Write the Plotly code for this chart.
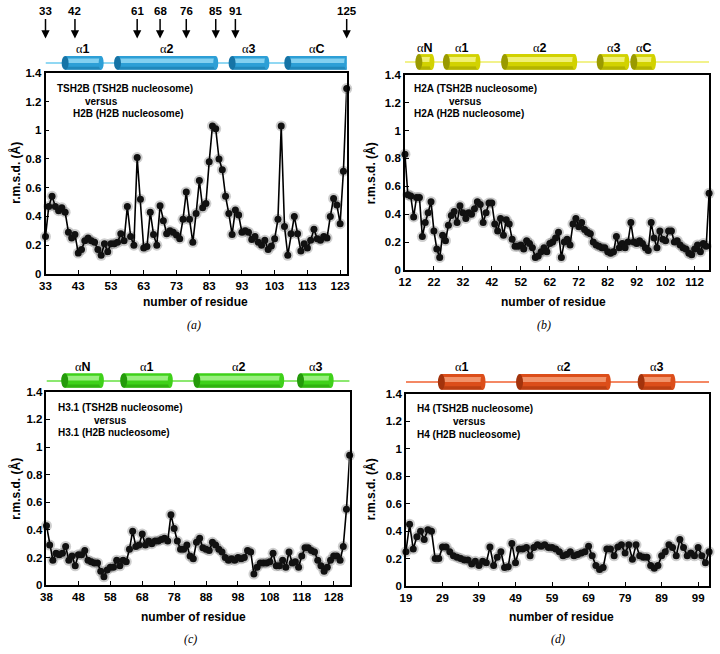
import plotly.graph_objects as go

# ---------------- data ----------------
res_a = list(range(33, 126))
rmsd_a = [0.26, 0.47, 0.54, 0.47, 0.44, 0.46, 0.43, 0.29, 0.25, 0.275,
          0.145, 0.17, 0.23, 0.25, 0.23, 0.22, 0.17, 0.13, 0.21, 0.155,
          0.21, 0.21, 0.22, 0.28, 0.23, 0.47, 0.26, 0.20, 0.81, 0.52,
          0.18, 0.19, 0.43, 0.275, 0.20, 0.475, 0.37, 0.28, 0.30, 0.29,
          0.27, 0.245, 0.38, 0.57, 0.38, 0.22, 0.42, 0.65, 0.46, 0.49,
          0.78, 1.03, 1.01, 0.80, 0.725, 0.54, 0.42, 0.275, 0.445, 0.41,
          0.29, 0.30, 0.29, 0.24, 0.26, 0.22, 0.20, 0.235, 0.17, 0.195,
          0.245, 0.38, 1.03, 0.33, 0.13, 0.28, 0.40, 0.28, 0.16, 0.21,
          0.18, 0.235, 0.31, 0.245, 0.235, 0.26, 0.25, 0.40, 0.525, 0.48,
          0.35, 0.715, 1.29]

res_b = list(range(12, 118))
rmsd_b = [0.83, 0.54, 0.53, 0.38, 0.52, 0.52, 0.24, 0.34, 0.41, 0.49,
          0.28, 0.15, 0.09, 0.25, 0.21, 0.32, 0.39, 0.42, 0.34, 0.46,
          0.41, 0.37, 0.41, 0.40, 0.44, 0.49, 0.47, 0.34, 0.41, 0.48,
          0.48, 0.33, 0.28, 0.37, 0.25, 0.36, 0.33, 0.22, 0.17, 0.17,
          0.18, 0.15, 0.21, 0.19, 0.16, 0.09, 0.10, 0.13, 0.16, 0.13,
          0.19, 0.20, 0.23, 0.27, 0.09, 0.20, 0.22, 0.18, 0.33, 0.37,
          0.31, 0.34, 0.29, 0.27, 0.26, 0.20, 0.18, 0.17, 0.16, 0.16,
          0.13, 0.12, 0.13, 0.24, 0.16, 0.19, 0.16, 0.20, 0.34, 0.20,
          0.19, 0.21, 0.19, 0.16, 0.14, 0.34, 0.23, 0.16, 0.28, 0.22,
          0.21, 0.28, 0.28, 0.20, 0.21, 0.18, 0.16, 0.15, 0.12, 0.11,
          0.15, 0.18, 0.13, 0.19, 0.17, 0.55]

res_c = list(range(38, 134))
rmsd_c = [0.43, 0.29, 0.18, 0.23, 0.22, 0.23, 0.28, 0.18, 0.21, 0.14,
          0.22, 0.22, 0.25, 0.18, 0.17, 0.16, 0.16, 0.10, 0.06, 0.11,
          0.13, 0.13, 0.18, 0.14, 0.18, 0.17, 0.26, 0.39, 0.28, 0.29,
          0.37, 0.29, 0.32, 0.30, 0.32, 0.32, 0.33, 0.34, 0.32, 0.51,
          0.41, 0.32, 0.26, 0.26, 0.29, 0.21, 0.19, 0.31, 0.34, 0.27,
          0.26, 0.25, 0.31, 0.29, 0.26, 0.24, 0.20, 0.18, 0.19, 0.18,
          0.20, 0.19, 0.20, 0.25, 0.24, 0.08, 0.13, 0.16, 0.16, 0.16,
          0.17, 0.23, 0.14, 0.14, 0.18, 0.13, 0.24, 0.16, 0.17, 0.13,
          0.21, 0.27, 0.27, 0.25, 0.24, 0.18, 0.14, 0.10, 0.13, 0.18,
          0.21, 0.21, 0.18, 0.28, 0.55, 0.94]

res_d = list(range(19, 103))
rmsd_d = [0.25, 0.45, 0.27, 0.36, 0.40, 0.34, 0.41, 0.40, 0.20, 0.20,
          0.285, 0.285, 0.25, 0.22, 0.21, 0.20, 0.19, 0.19, 0.16, 0.18,
          0.15, 0.18, 0.17, 0.285, 0.15, 0.21, 0.25, 0.135, 0.14, 0.31,
          0.17, 0.27, 0.27, 0.28, 0.22, 0.28, 0.30, 0.29, 0.30, 0.28,
          0.28, 0.27, 0.25, 0.22, 0.23, 0.25, 0.22, 0.23, 0.24, 0.25,
          0.29, 0.22, 0.15, 0.12, 0.135, 0.27, 0.27, 0.22, 0.285, 0.30,
          0.24, 0.30, 0.195, 0.30, 0.22, 0.21, 0.21, 0.15, 0.13, 0.15,
          0.22, 0.25, 0.30, 0.28, 0.22, 0.34, 0.28, 0.22, 0.24, 0.22,
          0.28, 0.22, 0.17, 0.25]

ticks_a = [33, 43, 53, 63, 73, 83, 93, 103, 113, 123]
ticks_b = [12, 22, 32, 42, 52, 62, 72, 82, 92, 102, 112]
ticks_c = [38, 48, 58, 68, 78, 88, 98, 108, 118, 128]
ticks_d = [19, 29, 39, 49, 59, 69, 79, 89, 99]
y_ticks = [0, 0.2, 0.4, 0.6, 0.8, 1.0, 1.2, 1.4]
y_ticktext = ["0", "0.2", "0.4", "0.6", "0.8", "1", "1.2", "1.4"]

# secondary structure (helix start, end residue, label)
helix_a = [(39, 50, "1"), (55, 85, "2"), (90, 100.6, "3"), (107, 125, "C")]
helix_b = [(16.8, 21.3, "N"), (26.3, 37.2, "1"), (46.4, 70.6, "2"), (79.4, 88.6, "3"), (91, 97.8, "C")]
helix_c = [(43.7, 55.2, "N"), (62.2, 76.8, "1"), (85.1, 111.7, "2"), (117.6, 127.2, "3")]
helix_d = [(28.7, 40.1, "1"), (50.1, 74.4, "2"), (83.4, 92.1, "3")]

arrow_res_a = [33, 42, 61, 68, 76, 85, 91, 125]

title_lines = {
    "a": ["TSH2B (TSH2B nucleosome)", "versus", "H2B (H2B nucleosome)"],
    "b": ["H2A (TSH2B nucleosome)", "versus", "H2A (H2B nucleosome)"],
    "c": ["H3.1 (TSH2B nucleosome)", "versus", "H3.1 (H2B nucleosome)"],
    "d": ["H4 (TSH2B nucleosome)", "versus", "H4 (H2B nucleosome)"],
}

# ---------------- layout helpers ----------------
W, H = 720, 654
def px(x):
    return x / W
def py(y):
    return 1 - y / H

FONT = "Liberation Sans"
SERIF = "Liberation Serif"

panels = [
    dict(key="a", xa="x", ya="y", res=res_a, val=rmsd_a, ticks=ticks_a, helices=helix_a,
         box=(40, 345, 68, 273), helix_y=(51, 58, 65), lab_y=44,
         colors=("#2d9fd6", "#93d8f5", "#1674a6", "#6ccbef"),
         txt=[(50, 84), (78, 97), (66, 110)], xt=(192, 302), yt=(10, 170), pl=(190, 325)),
    dict(key="b", xa="x2", ya="y2", res=res_b, val=rmsd_b, ticks=ticks_b, helices=helix_b,
         box=(404, 712, 70, 269), helix_y=(49, 57, 65), lab_y=43,
         colors=("#d2d200", "#f6f68a", "#9a9a00", "#eeee66"),
         txt=[(411, 84), (447, 97), (411, 110)], xt=(554, 302), yt=(370, 170), pl=(545, 325)),
    dict(key="c", xa="x3", ya="y3", res=res_c, val=rmsd_c, ticks=ticks_c, helices=helix_c,
         box=(41, 348, 393, 590), helix_y=(374, 382, 389), lab_y=368,
         colors=("#3fd11a", "#a8f590", "#249a0a", "#66e040"),
         txt=[(51, 409), (87, 422), (51, 434)], xt=(190, 622), yt=(10, 492), pl=(187, 645)),
    dict(key="d", xa="x4", ya="y4", res=res_d, val=rmsd_d, ticks=ticks_d, helices=helix_d,
         box=(405, 712, 395, 591), helix_y=(375, 383, 391), lab_y=368,
         colors=("#dc4e1a", "#f5a079", "#a3330c", "#f06030"),
         txt=[(414, 410), (451, 423), (414, 436)], xt=(563, 622), yt=(370, 492), pl=(559, 645)),
]

fig = go.Figure()
layout = dict(width=W, height=H, margin=dict(l=0, r=0, t=0, b=0),
              paper_bgcolor="white", plot_bgcolor="white", showlegend=False)
shapes, annotations = [], []

for p in panels:
    xa, ya = p["xa"], p["ya"]
    res, val = p["res"], p["val"]
    x0, x1, yt0, yb0 = p["box"]
    suffix = xa[1:]
    xkey = "xaxis" + suffix
    ykey = "yaxis" + suffix
    xr = [res[0], res[-1]]
    layout[xkey] = dict(domain=[px(x0), px(x1)], range=xr, anchor=ya,
                        tickvals=p["ticks"], ticks="inside", ticklen=4, tickcolor="black",
                        showline=True, mirror=True, linecolor="black", linewidth=1.6,
                        showgrid=False, zeroline=False,
                        tickfont=dict(family=FONT, size=11.5, color="black", weight="bold"))
    layout[ykey] = dict(domain=[py(yb0), py(yt0)], range=[-0.0005, 1.4],
                        tickvals=y_ticks, ticktext=y_ticktext, anchor=xa,
                        ticks="inside", ticklen=4, tickcolor="black",
                        showline=True, mirror=True, linecolor="black", linewidth=1.6,
                        showgrid=False, zeroline=False,
                        tickfont=dict(family=FONT, size=11.5, color="black", weight="bold"))

    # halo (shadow) then line + markers
    fig.add_trace(go.Scatter(x=res, y=val, xaxis=xa, yaxis=ya, mode="markers",
                             marker=dict(size=11, color="rgba(80,80,80,0.28)", line=dict(width=0)),
                             cliponaxis=False, hoverinfo="skip"))
    fig.add_trace(go.Scatter(x=res, y=val, xaxis=xa, yaxis=ya, mode="lines+markers",
                             line=dict(color="black", width=1.6),
                             marker=dict(size=7, color="#111111", line=dict(width=0)),
                             cliponaxis=False))

    # helix diagram
    body, hi, dark, linec = p["colors"]
    ht, hm, hb = p["helix_y"]
    yt, ym, yb = py(ht), py(hm), py(hb)
    hh = yt - yb
    shapes.append(dict(type="line", xref=xa, yref="paper", x0=xr[0], x1=xr[1], y0=ym, y1=ym,
                       line=dict(color=linec, width=1.6), layer="above"))
    for (s, e, lab) in p["helices"]:
        shapes.append(dict(type="rect", xref=xa, yref="paper", x0=s, x1=e, y0=yb, y1=yt,
                           fillcolor=body, line=dict(width=0)))
        shapes.append(dict(type="rect", xref=xa, yref="paper", x0=s, x1=e, y0=yb, y1=yb + 0.22 * hh,
                           fillcolor=dark, opacity=0.55, line=dict(width=0)))
        shapes.append(dict(type="rect", xref=xa, yref="paper", x0=s, x1=e, y0=yb + 0.5 * hh,
                           y1=yb + 0.82 * hh, fillcolor=hi, opacity=0.85, line=dict(width=0)))
        shapes.append(dict(type="circle", xref=xa, yref="paper", xsizemode="pixel", xanchor=e,
                           x0=-2.5, x1=2.5, y0=yb, y1=yt, fillcolor=body, line=dict(width=0)))
        shapes.append(dict(type="circle", xref=xa, yref="paper", xsizemode="pixel", xanchor=s,
                           x0=-3.5, x1=3.5, y0=yb, y1=yt, fillcolor=dark, line=dict(width=0)))
        annotations.append(dict(
            x=(s + e) / 2, y=py(p["lab_y"]), xref=xa, yref="paper", showarrow=False,
            text="<span style='font-family:Liberation Serif;font-weight:normal'>α</span><b>" + lab + "</b>",
            font=dict(family=FONT, size=12.5, color="black"), xanchor="center", yanchor="middle"))

    # inner text
    for (tx, ty), line in zip(p["txt"], title_lines[p["key"]]):
        annotations.append(dict(x=px(tx), y=py(ty), xref="paper", yref="paper", showarrow=False,
                                text="<b>" + line + "</b>", xanchor="left", yanchor="middle",
                                font=dict(family=FONT, size=10, color="black")))
    # axis titles
    annotations.append(dict(x=px(p["xt"][0]), y=py(p["xt"][1]), xref="paper", yref="paper",
                            showarrow=False, text="<b>number of residue</b>",
                            font=dict(family=FONT, size=12, color="black"),
                            xanchor="center", yanchor="middle"))
    annotations.append(dict(x=px(p["yt"][0]), y=py(p["yt"][1]), xref="paper", yref="paper",
                            showarrow=False, text="<b>r.m.s.d. (Å)</b>", textangle=-90,
                            font=dict(family=FONT, size=12, color="black"),
                            xanchor="center", yanchor="middle"))
    annotations.append(dict(x=px(p["pl"][0]), y=py(p["pl"][1]), xref="paper", yref="paper",
                            showarrow=False, text="<i>(" + p["key"] + ")</i>",
                            font=dict(family=SERIF, size=12, color="black"),
                            xanchor="center", yanchor="middle"))

# residue arrows above panel (a)
for r in arrow_res_a:
    annotations.append(dict(x=r, y=py(33), xref="x", yref="paper", ax=0, ay=-27,
                            text="<b>" + str(r) + "</b>", showarrow=True,
                            arrowhead=2, arrowsize=1.1, arrowwidth=1.5, arrowcolor="black",
                            font=dict(family=FONT, size=11.5, color="black")))

layout["shapes"] = shapes
layout["annotations"] = annotations
fig.update_layout(**layout)
fig.write_html("out.html", config={"displayModeBar": False},
               post_script="document.body.style.margin='0';document.body.style.padding='0';")
